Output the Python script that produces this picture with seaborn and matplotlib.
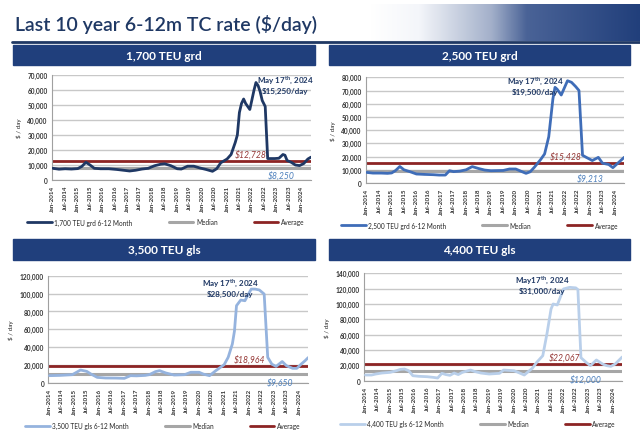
"""Last 10 year 6-12m TC rate ($/day) - four container size panels."""

import numpy as np
import pandas as pd
import matplotlib
matplotlib.use("Agg")
import matplotlib.pyplot as plt
from matplotlib.colors import LinearSegmentedColormap
from matplotlib.patches import Rectangle
from matplotlib.ticker import FuncFormatter, MultipleLocator
import seaborn as sns

# ---- data ($'000/day) ----
dates_1700 = ["2014-01", "2014-04", "2014-07", "2014-10", "2015-01", "2015-03", "2015-05", "2015-07",
              "2015-09", "2015-12", "2016-04", "2016-08", "2016-11", "2017-02", "2017-05", "2017-08",
              "2017-11", "2018-02", "2018-05", "2018-07", "2018-10", "2019-01", "2019-03", "2019-06",
              "2019-09", "2019-12", "2020-03", "2020-06", "2020-08", "2020-10", "2021-01", "2021-03",
              "2021-05", "2021-06", "2021-07", "2021-08", "2021-09", "2021-10", "2021-12", "2022-02",
              "2022-03", "2022-04", "2022-05", "2022-06", "2022-07-15", "2022-08-20", "2022-12",
              "2023-02", "2023-04", "2023-05", "2023-06", "2023-08", "2023-10", "2023-12", "2024-02",
              "2024-04", "2024-05-17"]
rate_1700 = [7.8, 7.2, 7.5, 7.3, 7.6, 9.0, 11.8, 10.0,
             7.8, 7.5, 7.5, 7.0, 6.5, 6.0, 6.5, 7.3,
             7.8, 9.5, 10.5, 10.8, 9.5, 7.5, 7.3, 9.2,
             9.2, 8.0, 7.0, 5.8, 7.5, 11.5, 14.0, 17.0,
             25.0, 30.0, 45.0, 51.0, 54.0, 51.0, 47.0, 60.0,
             65.0, 63.0, 59.0, 53.0, 49.0, 14.3, 14.3,
             14.5, 17.0, 16.5, 13.0, 11.8, 10.0, 9.6, 11.0,
             14.0, 15.25]

dates_2500 = ["2014-01", "2014-04", "2014-08", "2014-11", "2015-01", "2015-03", "2015-05", "2015-07",
              "2015-10", "2016-01", "2016-05", "2016-09", "2016-12", "2017-03", "2017-05", "2017-07",
              "2017-10", "2018-01", "2018-04", "2018-07", "2018-10", "2019-01", "2019-07", "2019-10",
              "2020-01", "2020-04", "2020-06", "2020-08", "2020-10", "2021-01", "2021-03", "2021-05",
              "2021-07", "2021-08", "2021-09", "2021-11", "2022-02", "2022-04", "2022-06", "2022-07-20",
              "2022-09-10", "2022-11", "2023-02", "2023-05", "2023-07", "2023-10", "2023-12",
              "2024-02", "2024-05-17"]
rate_2500 = [8.0, 7.5, 7.5, 7.3, 7.6, 9.5, 12.5, 10.0,
             8.5, 6.8, 6.5, 6.3, 6.0, 6.0, 9.3, 8.6,
             9.0, 10.0, 12.4, 11.0, 9.8, 9.3, 9.5, 10.6,
             10.6, 8.6, 7.3, 8.5, 11.9, 17.7, 22.0, 35.0,
             63.6, 72.4, 71.0, 66.6, 77.4, 76.2, 73.0, 70.0,
             21.0, 19.5, 17.0, 19.4, 15.0, 14.0, 11.6,
             14.5, 19.5]

dates_3500 = ["2014-01", "2014-06", "2014-12", "2015-04", "2015-07", "2015-09", "2015-12", "2016-04",
              "2016-09", "2017-01", "2017-04", "2017-07", "2017-11", "2018-01", "2018-04", "2018-06",
              "2018-09", "2019-01", "2019-06", "2019-09", "2020-01", "2020-03", "2020-06", "2020-09",
              "2021-01", "2021-03", "2021-05", "2021-06", "2021-07", "2021-09", "2021-11", "2022-02",
              "2022-04", "2022-06", "2022-08-10", "2022-10", "2022-12", "2023-02", "2023-05",
              "2023-07", "2023-10", "2023-12", "2024-02", "2024-04", "2024-05-17"]
rate_3500 = [8.2, 8.5, 9.3, 14.5, 13.0, 10.0, 6.3, 5.6,
             5.5, 5.2, 8.2, 8.0, 8.5, 9.3, 12.7, 13.8,
             11.2, 8.9, 9.3, 12.0, 12.0, 10.0, 8.2, 13.8,
             20.5, 28.7, 43.6, 58.0, 86.5, 92.8, 92.0, 105.0,
             105.0, 104.0, 99.5, 28.7, 21.0, 18.6, 24.0,
             19.4, 16.4, 16.4, 21.0, 25.0, 28.5]

dates_4400 = ["2014-01", "2014-04", "2014-06", "2014-09", "2015-01", "2015-04", "2015-06", "2015-08",
              "2015-10", "2015-12", "2016-03", "2016-07", "2016-10", "2016-12", "2017-02", "2017-04",
              "2017-06", "2017-08", "2017-10", "2017-12", "2018-04", "2018-06", "2018-09", "2019-01",
              "2019-06", "2019-08", "2020-01", "2020-03", "2020-06", "2020-10", "2020-12", "2021-03",
              "2021-05", "2021-07", "2021-08", "2021-10", "2022-01", "2022-04", "2022-07", "2022-08",
              "2022-09-15", "2022-12", "2023-02", "2023-05", "2023-08", "2023-10", "2023-12", "2024-02",
              "2024-05-17"]
rate_4400 = [7.4, 7.4, 8.7, 10.0, 10.9, 13.0, 14.8, 15.2,
             13.0, 6.5, 5.7, 5.2, 4.3, 3.5, 9.6, 8.0,
             7.0, 10.0, 8.0, 10.9, 13.9, 12.0, 10.0, 8.7,
             9.6, 13.9, 13.0, 10.9, 7.4, 16.5, 23.9, 32.6,
             60.9, 93.5, 100.0, 98.7, 119.6, 121.7, 121.0, 118.7,
             30.0, 23.9, 19.6, 27.0, 21.7, 19.6, 18.7, 21.7,
             31.0]

medians = [8250, 9213, 9650, 12000]
averages = [12728, 15428, 18964, 22067]
panel_titles = ["1,700 TEU grd", "2,500 TEU grd", "3,500 TEU gls", "4,400 TEU gls"]
series_names = ["1,700 TEU grd 6-12 Month", "2,500 TEU grd 6-12 Month",
                "3,500 TEU gls 6-12 Month", "4,400 TEU gls 6-12 Month"]
notes = ["May 17$^{\\rm th}$, 2024\n\\$15,250/day", "May 17$^{\\rm th}$, 2024\n\\$19,500/day",
         "May 17$^{\\rm th}$, 2024\n\\$28,500/day", "May17$^{\\rm th}$, 2024\n\\$31,000/day"]

# ---- style ----
sns.set_style("white")
plt.rcParams["font.family"] = ["Lato", "DejaVu Sans"]
plt.rcParams["mathtext.fontset"] = "custom"
plt.rcParams["mathtext.rm"] = "Lato:bold"
plt.rcParams["mathtext.bf"] = "Lato:bold"

NAVY = "#1F3864"
HEADER = "#203F7C"
LINE_COLORS = ["#1F3864", "#3F6DB8", "#95B3DE", "#B9CFEA"]
MEDIAN_C = "#A6A6A6"
AVG_C = "#8C2424"

W, H = 640, 435
fig = plt.figure(figsize=(W / 100, H / 100), dpi=100)


def px_box(x0, y0, x1, y1):
    return [x0 / W, 1 - y1 / H, (x1 - x0) / W, (y1 - y0) / H]


# title + top gradient
fig.text(15 / W, 1 - 24 / H, "Last 10 year 6-12m TC rate ($/day)", fontsize=14,
         fontweight="semibold", color=NAVY, va="center", ha="left")
gax = fig.add_axes(px_box(370, 5, 640, 42))
grad_cmap = LinearSegmentedColormap.from_list(
    "g", [(0, "#FFFFFF"), (0.18, "#F4F6FA"), (0.45, "#A3B0CA"), (0.58, "#4A6397"), (1, "#213F7B")])
gax.imshow(np.linspace(0, 1, 256)[None, :], aspect="auto", cmap=grad_cmap)
gax.axis("off")
fig.add_artist(plt.Line2D([12 / W, 1], [1 - 43 / H, 1 - 43 / H], color=NAVY, lw=2,
                          transform=fig.transFigure))

# panels: axes box, header box, ymax, ystep, note pos, avg label date, median label date
layout = [
    ((51.7, 76, 311, 181), (13, 46, 315, 66), 70000, 10000, (0.90, 1.015), "2021-12-20", "2023-03"),
    ((365.7, 78.3, 624.3, 184), (329, 46, 630, 66), 80000, 10000, (0.655, 1.03), "2022-01-10", "2023-01"),
    ((48.3, 276.7, 308.3, 384), (13, 240, 315, 261), 120000, 20000, (0.70, 0.995), "2022-01-10", "2023-04"),
    ((364.3, 274.3, 622.3, 381.7), (329, 240, 630, 261), 140000, 20000, (0.69, 1.005), "2022-01-20", "2022-12"),
]
all_dates = [dates_1700, dates_2500, dates_3500, dates_4400]
all_rates = [rate_1700, rate_2500, rate_3500, rate_4400]
tick_dates = pd.date_range("2014-01-01", "2024-01-01", freq="6MS")

for i, (abox, hbox, ymax, ystep, note_pos, avg_d, med_d) in enumerate(layout):
    # header bar
    hx0, hy0, hx1, hy1 = hbox
    fig.add_artist(Rectangle((hx0 / W, 1 - hy1 / H), (hx1 - hx0) / W, (hy1 - hy0) / H,
                             transform=fig.transFigure, color=HEADER, zorder=1))
    fig.text((hx0 + hx1) / 2 / W, 1 - (hy0 + hy1) / 2 / H, panel_titles[i], color="white",
             fontsize=8.5, fontweight="bold", ha="center", va="center")

    ax = fig.add_axes(px_box(*abox))
    x = pd.to_datetime(all_dates[i], format="mixed")
    y = np.array(all_rates[i]) * 1000
    ax.axhline(medians[i], color=MEDIAN_C, lw=2.2, zorder=2, label="Median")
    ax.axhline(averages[i], color=AVG_C, lw=2, zorder=2, label="Average")
    sns.lineplot(x=x, y=y, ax=ax, color=LINE_COLORS[i], linewidth=2, zorder=3,
                 label=series_names[i])

    ax.set_xlim(pd.Timestamp("2013-12-15"), pd.Timestamp("2024-05-17"))
    ax.set_ylim(0, ymax)
    ax.yaxis.set_major_locator(MultipleLocator(ystep))
    ax.yaxis.set_major_formatter(FuncFormatter(lambda v, p: f"{v:,.0f}"))
    ax.grid(True, axis="y", color="#C8C8C8", lw=1)
    ax.set_axisbelow(True)
    ax.set_xticks(tick_dates)
    ax.set_xticklabels([d.strftime("%b-%Y") for d in tick_dates], rotation=90,
                       fontsize=4.5, fontweight="bold", color="#333333")
    ax.tick_params(axis="x", length=2, width=0.6, color="#999999", pad=1.5)
    ax.tick_params(axis="y", length=0, labelsize=4.7, labelcolor="#333333", pad=3)
    for lbl in ax.get_yticklabels():
        lbl.set_fontweight("bold")
    ax.set_xlabel("")
    ax.set_ylabel("$ / day", fontsize=4.5, labelpad=4)
    sns.despine(ax=ax)
    for side in ("left", "bottom"):
        ax.spines[side].set_color("#A0A0A0")
        ax.spines[side].set_linewidth(0.8)

    # value labels
    ax.annotate(f"\\${averages[i]:,}", (pd.Timestamp(avg_d), averages[i]),
                xytext=(0, 1.5), textcoords="offset points", ha="center", va="bottom",
                fontsize=6.2, style="italic", color="#953735")
    ax.annotate(f"\\${medians[i]:,}", (pd.Timestamp(med_d), medians[i]),
                xytext=(0, -2), textcoords="offset points", ha="center", va="top",
                fontsize=6.2, style="italic", color="#4F81BD")
    ax.text(note_pos[0], note_pos[1], notes[i], transform=ax.transAxes, ha="center", va="top",
            fontsize=5.8, fontweight="bold", color=NAVY, linespacing=1.3)

    # legend: series, Median, Average
    handles, labels = ax.get_legend_handles_labels()
    order = [labels.index(series_names[i]), labels.index("Median"), labels.index("Average")]
    ax.legend([handles[k] for k in order], [labels[k] for k in order], loc="center",
              bbox_to_anchor=(0.44, -0.40), ncol=3, frameon=False, fontsize=4.7,
              handlelength=3.8, columnspacing=5.5, handletextpad=0.4)

fig.savefig("out.png", dpi=100, facecolor="white")
plt.close(fig)
